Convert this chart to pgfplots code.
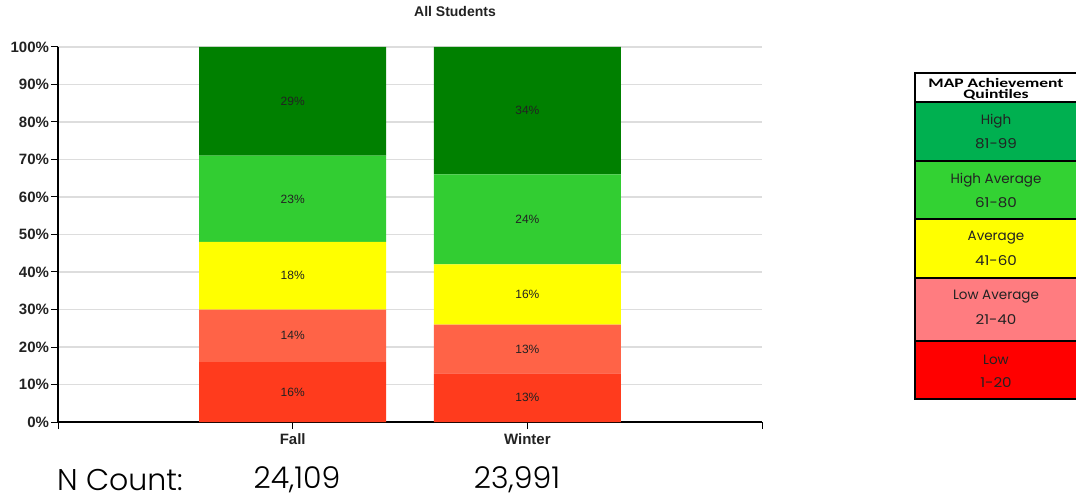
\documentclass[border=0pt]{standalone}
\usepackage{pgfplots}
\usepackage{pgfplotstable}
\usepackage{graphicx}
\pgfplotsset{compat=1.18}
\usepackage{fontspec}
\setmainfont{Liberation Sans}
\newfontfamily\carlito{Carlito}
\newfontfamily\poppins{Poppins}
\newfontfamily\poppinslight{Poppins Light}

% quintile colours of the bars
\definecolor{qHigh}{HTML}{008000}
\definecolor{qHighAvg}{HTML}{32CD32}
\definecolor{qAvg}{HTML}{FFFF00}
\definecolor{qLowAvg}{HTML}{FF6347}
\definecolor{qLow}{HTML}{FF3B1D}
% colours of the key
\definecolor{kHigh}{HTML}{00B050}
\definecolor{kHighAvg}{HTML}{33D233}
\definecolor{kAvg}{HTML}{FFFF00}
\definecolor{kLowAvg}{HTML}{FF7C80}
\definecolor{kLow}{HTML}{FF0000}
\definecolor{gridgray}{HTML}{DDDDDD}
\definecolor{inkgray}{HTML}{222222}

% share of students in each quintile (percent), term 1 = Fall, 2 = Winter
\pgfplotstableread{
x low lowavg avg highavg high
1 16  14     18  23      29
2 13  13     16  24      34
}\shares

% label positions: middle of each stacked segment
\pgfplotstableread{
x mid  label
1 8    16
1 23   14
1 39   18
1 59.5 23
1 85.5 29
2 6.5  13
2 19.5 13
2 34   16
2 54   24
2 83   34
}\segmentlabels

\pgfplotsset{
  quintileaxis/.style={
    at={(58pt,79pt)}, anchor=south west,
    scale only axis, width=704pt, height=375pt,
    xmin=0, xmax=3, ymin=0, ymax=100,
  }
}

\begin{document}
\begin{tikzpicture}[x=1pt,y=1pt]
\path[use as bounding box] (0,0) rectangle (1076,501);

\begin{axis}[
  quintileaxis,
  ybar stacked, bar width=187pt,
  axis x line*=bottom, axis y line*=left,
  axis line style={black, line width=1.2pt},
  xtick={0,1,2,3}, xticklabels={,Fall,Winter,},
  ytick={0,10,...,100},
  yticklabels={0\%,10\%,20\%,30\%,40\%,50\%,60\%,70\%,80\%,90\%,100\%},
  ymajorgrids, grid style={gridgray, line width=1.3pt},
  tick align=outside, major tick length=7pt,
  tick style={black, line width=1pt},
  tick label style={font=\bfseries\fontsize{15}{17}\selectfont, text=inkgray},
  yticklabel style={xshift=1.5pt},
  xticklabel style={yshift=-1pt},
]
\addplot[fill=qLow,     draw=none] table[x=x, y=low]      {\shares};
\addplot[fill=qLowAvg,  draw=none] table[x=x, y=lowavg]   {\shares};
\addplot[fill=qAvg,     draw=none] table[x=x, y=avg]      {\shares};
\addplot[fill=qHighAvg, draw=none] table[x=x, y=highavg]  {\shares};
\addplot[fill=qHigh,    draw=none] table[x=x, y=high]     {\shares};
\end{axis}

% percentages written in the middle of each segment
\begin{axis}[quintileaxis, hide axis]
\addplot[draw=none, mark=none, point meta=explicit symbolic,
  nodes near coords={\pgfplotspointmeta\%},
  every node near coord/.append style={anchor=center, font=\fontsize{12}{14}\selectfont, text=inkgray}]
  table[x=x, y=mid, meta=label] {\segmentlabels};
\end{axis}

% title
\node[font=\bfseries\fontsize{14}{16}\selectfont, text=inkgray] at (455,489) {All Students};

% counts of students tested
\node[anchor=west, font=\poppinslight\fontsize{30}{33}\selectfont, inner sep=0] at (57,21) {N Count:};
\node[font=\poppinslight\fontsize{30}{33}\selectfont, inner sep=0] at (297,21) {24,109};
\node[font=\poppinslight\fontsize{30}{33}\selectfont, inner sep=0] at (517,21) {23,991};

% key of achievement quintiles
\fill[white] (915,399) rectangle (1078,428);
\fill[kHigh]    (915,340) rectangle (1078,399);
\fill[kHighAvg] (915,282) rectangle (1078,340);
\fill[kAvg]     (915,223) rectangle (1078,282);
\fill[kLowAvg]  (915,160) rectangle (1078,223);
\fill[kLow]     (915,102) rectangle (1078,160);
\draw[black, line width=1.5pt] (915,102) rectangle (1078,428);
\foreach \yy in {399,340,282,223,160}
  \draw[black, line width=1.5pt] (915,\yy) -- (1078,\yy);

\node[font=\carlito\bfseries\fontsize{13}{14}\selectfont] at (996,418) {\scalebox{1.35}[1]{MAP Achievement}};
\node[font=\carlito\bfseries\fontsize{13}{14}\selectfont] at (996,406) {\scalebox{1.35}[1]{Quintiles}};

\foreach \yt/\name/\range in {399/High/81-99, 340/High Average/61-80, 282/Average/41-60, 223/Low Average/21-40, 160/Low/1-20}{
  \node[font=\poppins\fontsize{13.5}{15}\selectfont, text=inkgray] at (996,\yt-19) {\name};
  \node[font=\poppins\fontsize{13.5}{15}\selectfont, text=inkgray] at (996,\yt-42) {\scalebox{1.12}[1]{\range}};
}
\end{tikzpicture}
\end{document}
